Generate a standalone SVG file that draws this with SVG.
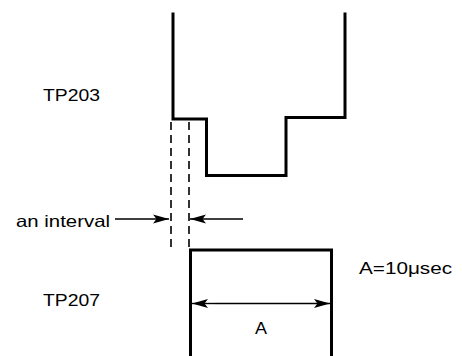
<svg xmlns="http://www.w3.org/2000/svg" width="462" height="356" viewBox="0 0 462 356">
<style>
.w{fill:none;stroke:#000;stroke-width:3;stroke-linejoin:miter;stroke-linecap:square}
.d{fill:none;stroke:#000;stroke-width:1.6;stroke-dasharray:8 5}
.a{fill:none;stroke:#000;stroke-width:1.4}
.t{font-family:"Liberation Sans",Arial,sans-serif;font-size:16.5px;fill:#000}
</style>
<defs>
<marker id="ah" viewBox="0 0 16 10" refX="16" refY="5" markerWidth="16" markerHeight="10" markerUnits="userSpaceOnUse" orient="auto">
<path d="M0,0.5 L16,5 L0,9.5 L3.5,5 Z" fill="#000"/>
</marker>
</defs>
<rect width="462" height="356" fill="#fff"/>
<g id="tp203">
<path class="w" d="M173,14 V119 H206.5 V175.5 H286 V117.5 H345 V14"/>
<text class="t" x="43" y="100.5" textLength="57" lengthAdjust="spacingAndGlyphs">TP203</text>
</g>
<g id="tp207">
<path class="w" d="M190.5,356 V250 H331.5 V356"/>
<text class="t" x="43" y="305.5" textLength="57" lengthAdjust="spacingAndGlyphs">TP207</text>
</g>
<g id="interval-label">
<text class="t" x="16" y="226.5" textLength="94" lengthAdjust="spacingAndGlyphs">an interval</text>
</g>
<g id="a-label">
<text class="t" x="255" y="334" textLength="12" lengthAdjust="spacingAndGlyphs">A</text>
<text class="t" x="359" y="273.5" textLength="93" lengthAdjust="spacingAndGlyphs">A=10μsec</text>
</g>
<g id="connectors">
<line class="d" x1="171" y1="122" x2="171" y2="252"/>
<line class="d" x1="189" y1="122" x2="189" y2="248"/>
<line class="a" x1="115" y1="219" x2="169" y2="219" marker-end="url(#ah)"/>
<line class="a" x1="243" y1="219" x2="190" y2="219" marker-end="url(#ah)"/>
<line class="a" x1="215" y1="303.5" x2="192" y2="303.5" marker-end="url(#ah)"/>
<line class="a" x1="215" y1="303.5" x2="330" y2="303.5" marker-end="url(#ah)"/>
</g>
</svg>
